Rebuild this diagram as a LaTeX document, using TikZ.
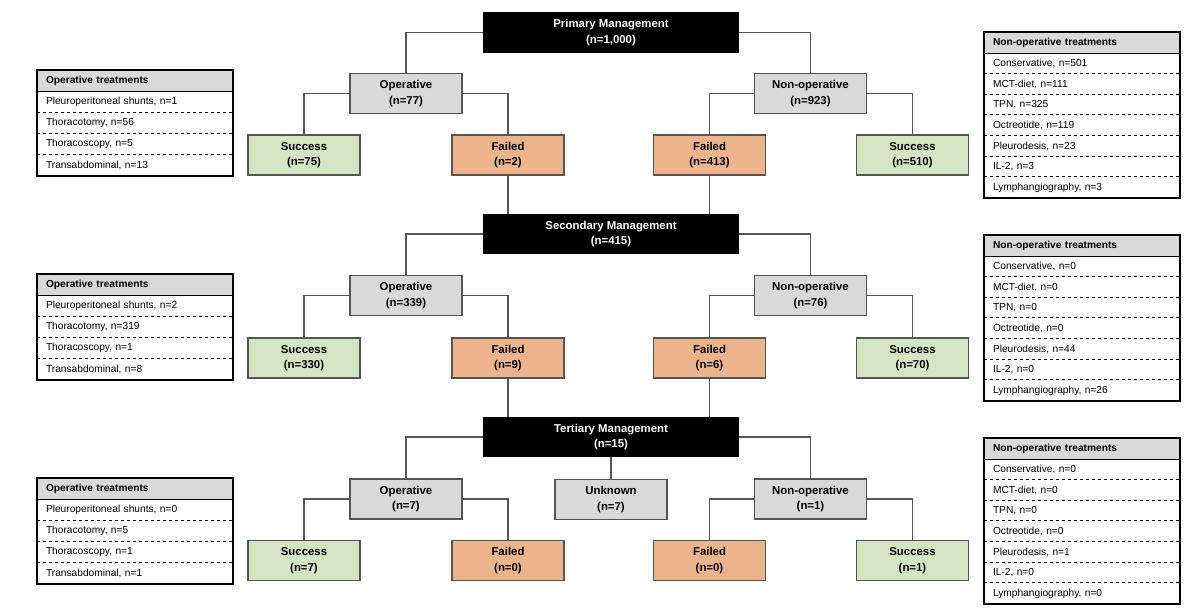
\documentclass[tikz,border=0pt]{standalone}
\usepackage{fontspec}
\setmainfont{Liberation Sans}
\usetikzlibrary{positioning, fit}
\definecolor{boxgray}{HTML}{D9D9D9}
\definecolor{okgreen}{HTML}{D3E5C3}
\definecolor{failorange}{HTML}{EDB38A}
\definecolor{linegray}{HTML}{555555}

\tikzset{
  box/.style={draw=linegray, line width=1.2pt, minimum width=112pt, minimum height=40pt,
    align=center, inner sep=0pt, font=\bfseries\fontsize{11.4}{15.5}\selectfont},
  mgmt/.style={box, fill=black, draw=black, text=white, minimum width=254pt, minimum height=39pt},
  branch/.style={box, fill=boxgray},
  success/.style={box, fill=okgreen},
  failed/.style={box, fill=failorange},
  link/.style={draw=linegray, line width=1.2pt},
  thead/.style={draw=black, line width=1pt, fill=boxgray, anchor=north west,
    minimum width=195pt, minimum height=21pt, text width=178pt, inner xsep=8.5pt,
    inner ysep=0pt, align=left, font=\bfseries\fontsize{10.2}{12}\selectfont},
  trow/.style={thead, draw=none, fill=none, font=\fontsize{10.2}{12}\selectfont},
  tframe/.style={draw=black, line width=2pt, inner sep=0pt},
  sep/.style={dashed, line width=0.8pt}
}

\begin{document}
\begin{tikzpicture}[x=1pt, y=-1pt]
  \useasboundingbox (0,0) rectangle (1200,615);

  % primary level
  \node[mgmt] (prim) at (611,32.5) {Primary Management\\(n=1,000)};
    \node[branch] (op1) at (406,93.5) {Operative\\(n=77)};
    \node[branch] (nop1) at (810.5,93.5) {Non-operative\\(n=923)};
    \node[success] (os1) at (304,155) {Success\\(n=75)};
    \node[failed] (of1) at (508,155) {Failed\\(n=2)};
    \node[failed] (nf1) at (709.5,155) {Failed\\(n=413)};
    \node[success] (ns1) at (912.5,155) {Success\\(n=510)};

  % secondary level
  \node[mgmt] (sec) at (611,234) {Secondary Management\\(n=415)};
    \node[branch] (op2) at (406,295.5) {Operative\\(n=339)};
    \node[branch] (nop2) at (810.5,295.5) {Non-operative\\(n=76)};
    \node[success] (os2) at (304,358) {Success\\(n=330)};
    \node[failed] (of2) at (508,358) {Failed\\(n=9)};
    \node[failed] (nf2) at (709.5,358) {Failed\\(n=6)};
    \node[success] (ns2) at (912.5,358) {Success\\(n=70)};

  % tertiary level
  \node[mgmt] (ter) at (611,437) {Tertiary Management\\(n=15)};
    \node[branch] (op3) at (406,499) {Operative\\(n=7)};
    \node[branch, below=22pt of ter] (unk3) {Unknown\\(n=7)};
    \node[branch] (nop3) at (810.5,499) {Non-operative\\(n=1)};
    \node[success] (os3) at (304,560.5) {Success\\(n=7)};
    \node[failed] (of3) at (508,560.5) {Failed\\(n=0)};
    \node[failed] (nf3) at (709.5,560.5) {Failed\\(n=0)};
    \node[success] (ns3) at (912.5,560.5) {Success\\(n=1)};

  \draw[link] (prim.west) -| (op1.north);
  \draw[link] (prim.east) -| (nop1.north);
  \draw[link] (op1.west) -| (os1.north);
  \draw[link] (op1.east) -| (of1.north);
  \draw[link] (nop1.west) -| (nf1.north);
  \draw[link] (nop1.east) -| (ns1.north);
  \draw[link] (of1.south) -- (of1.south |- sec.north);
  \draw[link] (nf1.south) -- (nf1.south |- sec.north);

  \draw[link] (sec.west) -| (op2.north);
  \draw[link] (sec.east) -| (nop2.north);
  \draw[link] (op2.west) -| (os2.north);
  \draw[link] (op2.east) -| (of2.north);
  \draw[link] (nop2.west) -| (nf2.north);
  \draw[link] (nop2.east) -| (ns2.north);
  \draw[link] (of2.south) -- (of2.south |- ter.north);
  \draw[link] (nf2.south) -- (nf2.south |- ter.north);

  \draw[link] (ter.west) -| (op3.north);
  \draw[link] (ter.east) -| (nop3.north);
  \draw[link] (ter.south) -- (unk3.north);
  \draw[link] (op3.west) -| (os3.north);
  \draw[link] (op3.east) -| (of3.north);
  \draw[link] (nop3.west) -| (nf3.north);
  \draw[link] (nop3.east) -| (ns3.north);

  % operative treatment tables (left)
  \node[thead] (ot1) at (37,70) {Operative treatments};
  \foreach \t [count=\i] in {{Pleuroperitoneal shunts, n=1}, {Thoracotomy, n=56},
      {Thoracoscopy, n=5}, {Transabdominal, n=13}} {
    \node[trow] (ot1-\i) at (37,{70+21*\i}) {\t};
    \draw[sep] (ot1-\i.north west) -- (ot1-\i.north east);
  }
  \node[tframe, fit=(ot1)(ot1-4)] {};

  \node[thead] (ot2) at (37,274) {Operative treatments};
  \foreach \t [count=\i] in {{Pleuroperitoneal shunts, n=2}, {Thoracotomy, n=319},
      {Thoracoscopy, n=1}, {Transabdominal, n=8}} {
    \node[trow] (ot2-\i) at (37,{274+21*\i}) {\t};
    \draw[sep] (ot2-\i.north west) -- (ot2-\i.north east);
  }
  \node[tframe, fit=(ot2)(ot2-4)] {};

  \node[thead] (ot3) at (37,478) {Operative treatments};
  \foreach \t [count=\i] in {{Pleuroperitoneal shunts, n=0}, {Thoracotomy, n=5},
      {Thoracoscopy, n=1}, {Transabdominal, n=1}} {
    \node[trow] (ot3-\i) at (37,{478+21*\i}) {\t};
    \draw[sep] (ot3-\i.north west) -- (ot3-\i.north east);
  }
  \node[tframe, fit=(ot3)(ot3-4)] {};

  % non-operative treatment tables (right)
  \node[thead] (nt1) at (984,32) {Non-operative treatments};
  \foreach \t [count=\i] in {{Conservative, n=501}, {MCT-diet, n=111}, {TPN, n=325},
      {Octreotide, n=119}, {Pleurodesis, n=23}, {IL-2, n=3}, {Lymphangiography, n=3}} {
    \node[trow, minimum height=20.6pt] (nt1-\i) at (984,{32.4+20.6*\i}) {\t};
    \draw[sep] (nt1-\i.north west) -- (nt1-\i.north east);
  }
  \node[tframe, fit=(nt1)(nt1-7)] {};

  \node[thead] (nt2) at (984,235) {Non-operative treatments};
  \foreach \t [count=\i] in {{Conservative, n=0}, {MCT-diet, n=0}, {TPN, n=0},
      {Octreotide, n=0}, {Pleurodesis, n=44}, {IL-2, n=0}, {Lymphangiography, n=26}} {
    \node[trow, minimum height=20.6pt] (nt2-\i) at (984,{235.4+20.6*\i}) {\t};
    \draw[sep] (nt2-\i.north west) -- (nt2-\i.north east);
  }
  \node[tframe, fit=(nt2)(nt2-7)] {};

  \node[thead] (nt3) at (984,438) {Non-operative treatments};
  \foreach \t [count=\i] in {{Conservative, n=0}, {MCT-diet, n=0}, {TPN, n=0},
      {Octreotide, n=0}, {Pleurodesis, n=1}, {IL-2, n=0}, {Lymphangiography, n=0}} {
    \node[trow, minimum height=20.6pt] (nt3-\i) at (984,{438.4+20.6*\i}) {\t};
    \draw[sep] (nt3-\i.north west) -- (nt3-\i.north east);
  }
  \node[tframe, fit=(nt3)(nt3-7)] {};
\end{tikzpicture}
\end{document}
